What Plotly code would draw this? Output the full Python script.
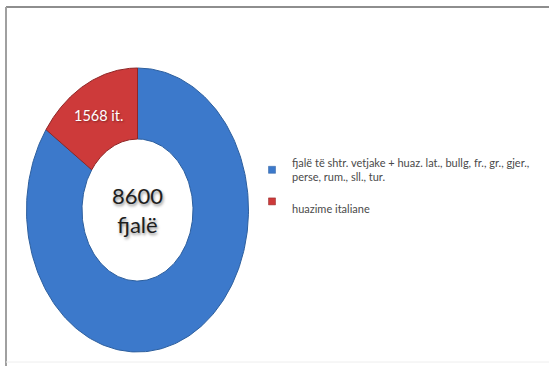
import numpy as np
import plotly.graph_objects as go

# Word counts shown in the ring
categories = [
    "fjalë të shtr. vetjake + huaz. lat., bullg, fr., gr., gjer.,<br>perse, rum., sll., tur.",
    "<br>huazime italiane",
]
values = [8600, 1568]
slice_labels = ["", "1568 it."]
center_label = "8600<br>fjalë"
colors = ["#3c79cb", "#cd3a3a"]
edge_colors = ["#2d5f9e", "#8f2626"]

W, H = 549, 366
# ring geometry in pixels (ring is drawn slightly taller than wide)
cx_px, cy_px = 137.5, 210.0
rx_px, ry_px = 111.0, 142.0
hole = 0.5

fig = go.Figure()

total = float(sum(values))
start = 90.0
mid_angles = []
for i, v in enumerate(values):
    sweep = 360.0 * v / total
    a0, a1 = start, start - sweep  # clockwise from 12 o'clock
    t = np.radians(np.linspace(a0, a1, 240))
    xs = np.concatenate([np.cos(t), hole * np.cos(t[::-1]), [np.cos(t[0])]])
    ys = np.concatenate([np.sin(t), hole * np.sin(t[::-1]), [np.sin(t[0])]])
    fig.add_trace(go.Scatter(
        x=xs, y=ys, mode="lines", fill="toself",
        fillcolor=colors[i],
        line=dict(color=edge_colors[i], width=1),
        hoverinfo="skip", showlegend=False,
    ))
    mid_angles.append((a0 + a1) / 2.0)
    start = a1

# legend entries
for i, name in enumerate(categories):
    fig.add_trace(go.Scatter(
        x=[None], y=[None], mode="markers", name=name,
        marker=dict(symbol="square", size=7, color=colors[i],
                    line=dict(color=edge_colors[i], width=0.5)),
    ))

# slice value labels
for i, lab in enumerate(slice_labels):
    if not lab:
        continue
    r = (1 + hole) / 2
    a = np.radians(mid_angles[i])
    fig.add_annotation(
        x=r * np.cos(a), y=r * np.sin(a), text=lab, showarrow=False,
        font=dict(family="Lato, Carlito, sans-serif", size=14.5, color="white",
                  shadow="1px 1px 2px rgba(0,0,0,0.35)"),
    )

# total in the middle of the ring
fig.add_annotation(
    x=0, y=0, text=center_label, showarrow=False,
    font=dict(family="Lato, Carlito, sans-serif", size=22, color="#1e1e1e",
              shadow="1px 2px 3px rgba(0,0,0,0.45)"),
)

# frame lines
fig.add_shape(type="line", xref="paper", yref="paper",
              x0=6 / W, x1=1, y0=1 - 7 / H, y1=1 - 7 / H,
              line=dict(color="#8e8e8e", width=2))
fig.add_shape(type="line", xref="paper", yref="paper",
              x0=6 / W, x1=6 / W, y0=0, y1=1 - 7 / H,
              line=dict(color="#a0a0a0", width=2))
fig.add_shape(type="line", xref="paper", yref="paper",
              x0=6 / W, x1=1, y0=4 / H, y1=4 / H,
              line=dict(color="#eeeeee", width=1))

fig.update_layout(
    width=W, height=H,
    margin=dict(l=0, r=0, t=0, b=0),
    paper_bgcolor="white", plot_bgcolor="white",
    xaxis=dict(range=[-cx_px / rx_px, (W - cx_px) / rx_px], visible=False, fixedrange=True),
    yaxis=dict(range=[-(H - cy_px) / ry_px, cy_px / ry_px], visible=False, fixedrange=True),
    showlegend=True,
    legend=dict(
        x=252 / W, y=1 - 149 / H, xanchor="left", yanchor="top",
        font=dict(family="Lato, Carlito, sans-serif", size=11, color="#4a4a4a"),
        bgcolor="rgba(0,0,0,0)", itemwidth=30,
    ),
)

fig.write_html("out.html")
